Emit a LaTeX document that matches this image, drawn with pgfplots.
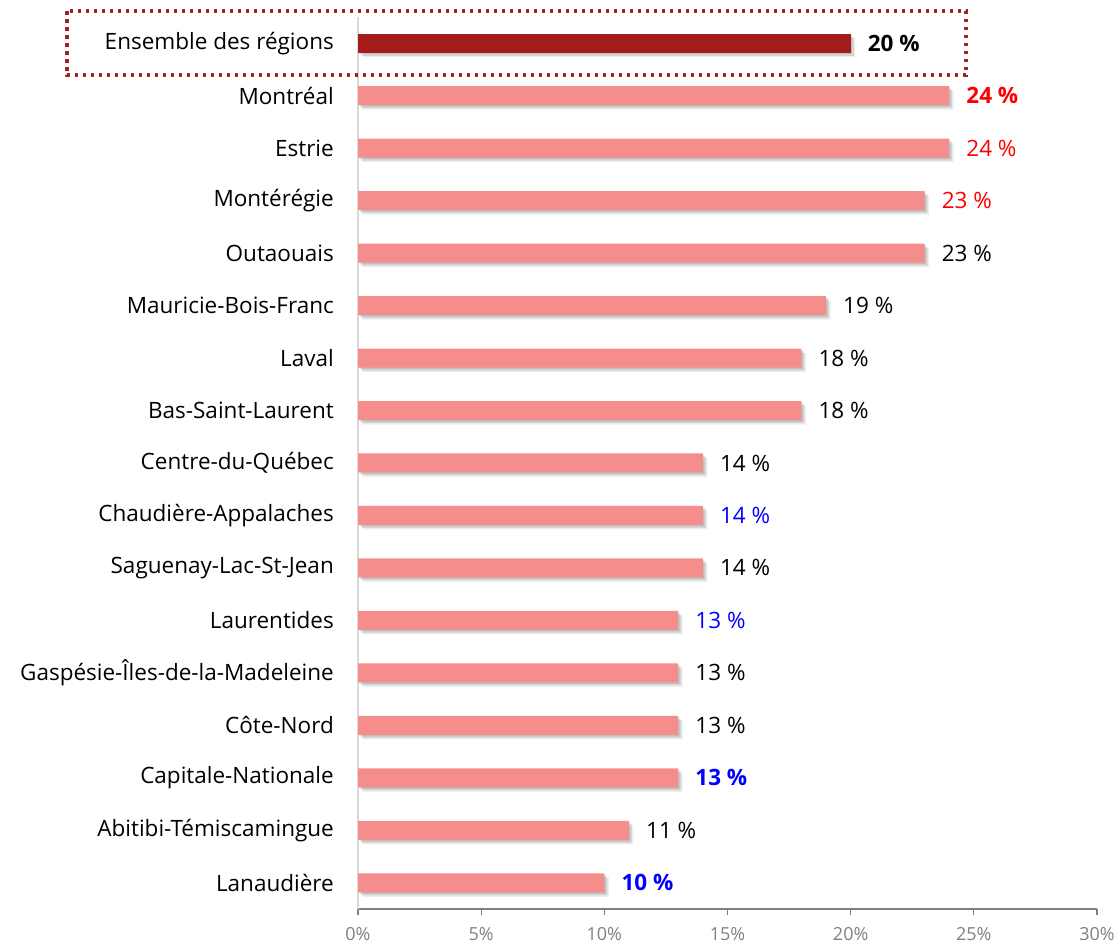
\documentclass[border=0pt]{standalone}
\usepackage{pgfplots}
\pgfplotsset{compat=1.18}
\usepackage{fontspec}
\setmainfont{Open Sans}
\usetikzlibrary{shadows}
\definecolor{barsalmon}{RGB}{244,141,139}
\definecolor{bardark}{RGB}{163,27,27}
\definecolor{boxred}{RGB}{160,35,35}
\definecolor{txtblue}{RGB}{0,0,255}
\definecolor{txtred}{RGB}{255,0,0}
\definecolor{tickgray}{RGB}{128,128,128}
\tikzset{softshadow/.style={
  drop shadow={shadow xshift=1.5pt, shadow yshift=-1.5pt, fill=black, opacity=0.10},
  drop shadow={shadow xshift=3pt, shadow yshift=-3pt, fill=black, opacity=0.10},
  drop shadow={shadow xshift=4.5pt, shadow yshift=-4.5pt, fill=black, opacity=0.07}}}
\begin{document}
\begin{tikzpicture}[x=1pt,y=1pt]
\useasboundingbox (0,0) rectangle (1119,945);
\begin{axis}[
  at={(358pt,36pt)}, anchor=south west,
  scale only axis, width=739pt, height=892pt,
  xmin=0, xmax=30, ymin=-0.5, ymax=16.5,
  clip=false,
  xtick={0,5,...,30}, ytick={0,...,16},
  yticklabels={Lanaudière,Abitibi-Témiscamingue,Capitale-Nationale,Côte-Nord,Gaspésie-Îles-de-la-Madeleine,Laurentides,Saguenay-Lac-St-Jean,Chaudière-Appalaches,Centre-du-Québec,Bas-Saint-Laurent,Laval,Mauricie-Bois-Franc,Outaouais,Montérégie,Estrie,Montréal,Ensemble des régions},
  axis x line*=bottom, axis y line*=left,
  x axis line style={tickgray, line width=1.2pt},
  y axis line style={black!15, line width=1.2pt},
  tick align=outside, major tick length=6pt,
  xtick style={tickgray, line width=1.2pt},
  ytick style={draw=none},
  /pgf/number format/assume math mode=true,
  xticklabel={\pgfmathprintnumber{\tick}\%},
  xticklabel style={font=\fontsize{18}{22}\selectfont, text=tickgray, inner sep=0pt, anchor=north, yshift=-12pt},
  yticklabel style={font=\fontsize{22.5}{27}\selectfont, text=black, inner sep=0pt, anchor=east, xshift=-18pt},
  xbar, bar width=19pt,
  point meta=explicit symbolic,
  nodes near coords={\pgfplotspointmeta},
  every node near coord/.append style={anchor=west, inner sep=0pt, xshift=17pt, font=\fontsize{22.5}{27}\selectfont},
]
\addplot[bar shift=0pt, draw=none, fill=barsalmon, softshadow]
  coordinates {
  (24,15) [{\color{txtred}\bfseries 24 \%}]
  (24,14) [{\color{txtred}24 \%}]
  (23,13) [{\color{txtred}23 \%}]
  (23,12) [{\color{black}23 \%}]
  (19,11) [{\color{black}19 \%}]
  (18,10) [{\color{black}18 \%}]
  (18,9) [{\color{black}18 \%}]
  (14,8) [{\color{black}14 \%}]
  (14,7) [{\color{txtblue}14 \%}]
  (14,6) [{\color{black}14 \%}]
  (13,5) [{\color{txtblue}13 \%}]
  (13,4) [{\color{black}13 \%}]
  (13,3) [{\color{black}13 \%}]
  (13,2) [{\color{txtblue}\bfseries 13 \%}]
  (11,1) [{\color{black}11 \%}]
  (10,0) [{\color{txtblue}\bfseries 10 \%}]
  };
\addplot[bar shift=0pt, draw=none, fill=bardark, softshadow]
  coordinates {
  (20,16) [{\color{black}\bfseries 20 \%}]
  };
\draw[boxred, line width=3.5pt, dash pattern=on 3.3pt off 4.7pt]
  (axis cs:-11.82,16.61) rectangle (axis cs:24.68,15.39);
\end{axis}
\end{tikzpicture}
\end{document}
